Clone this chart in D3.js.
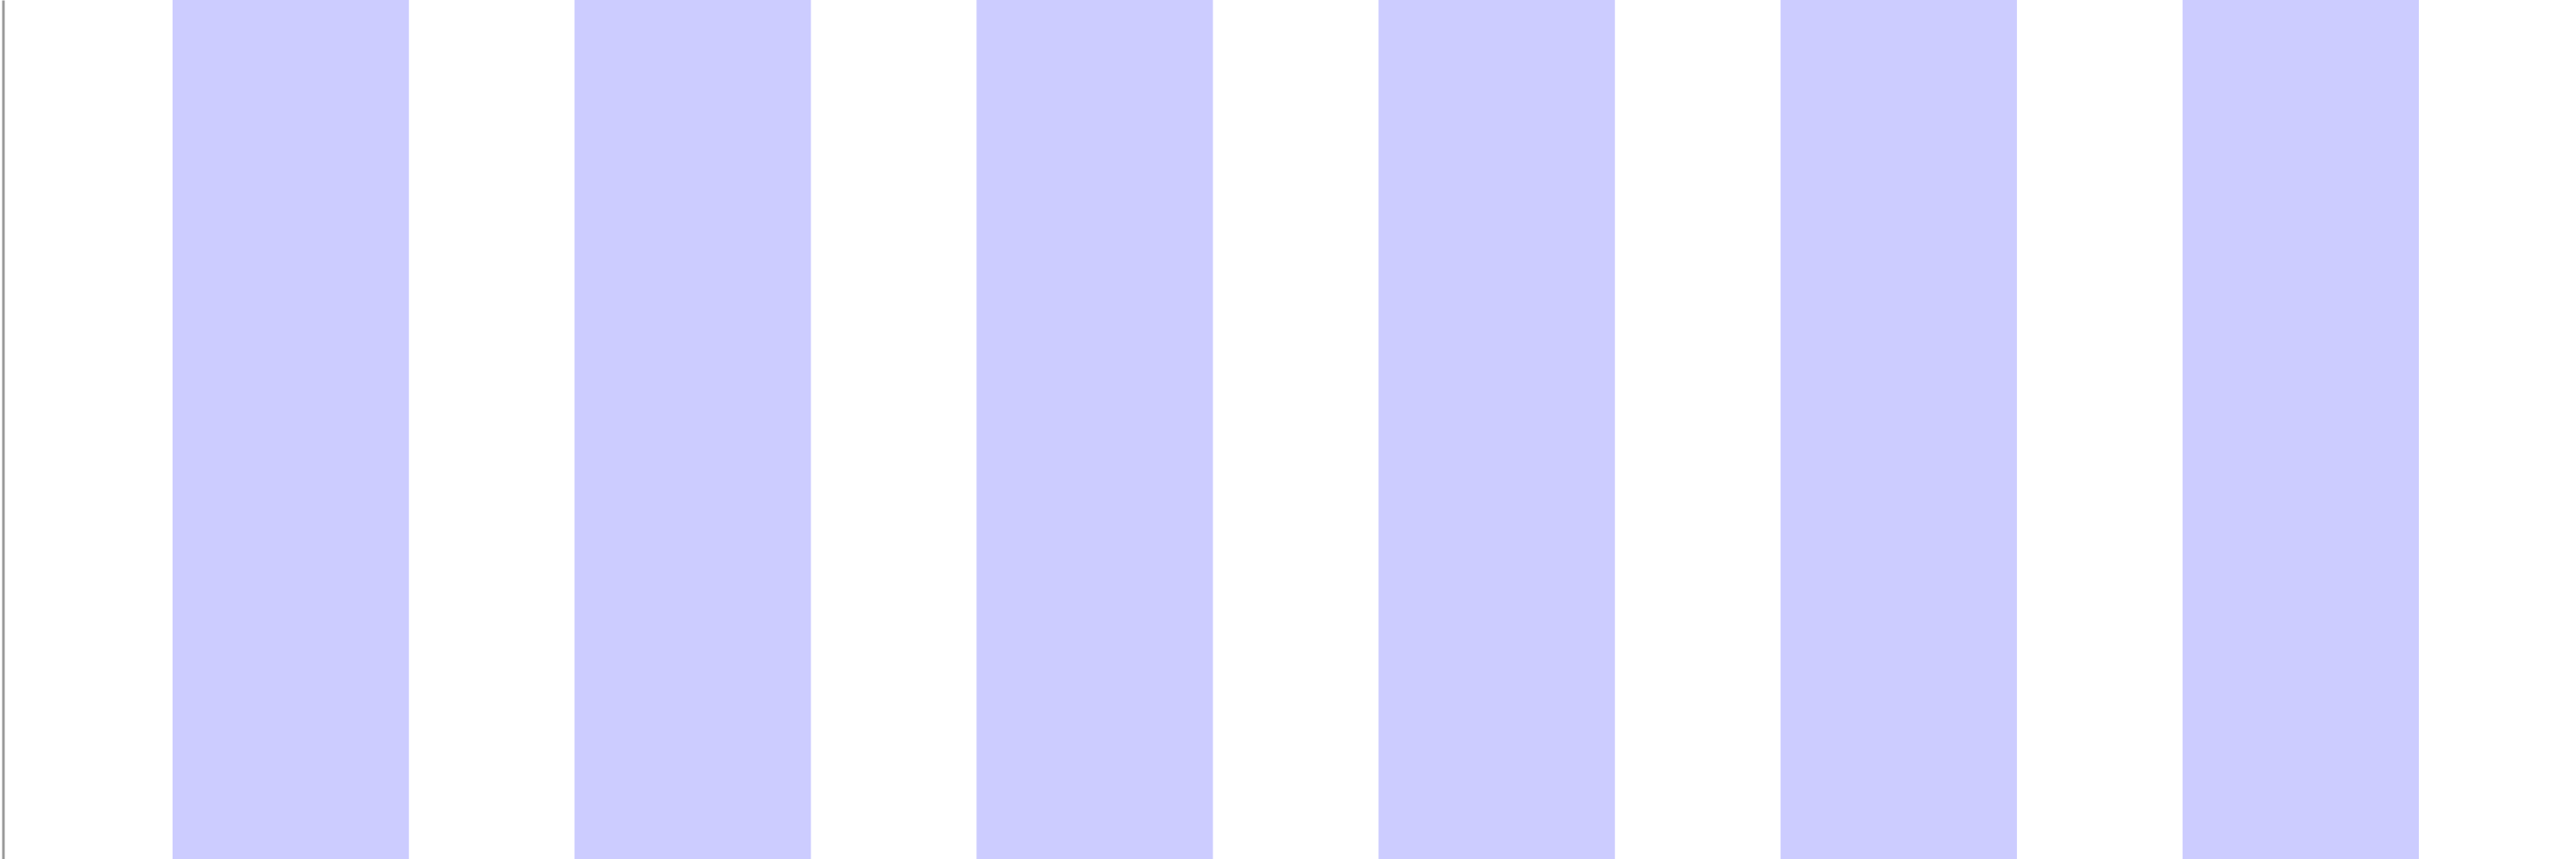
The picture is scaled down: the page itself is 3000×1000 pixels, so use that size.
<!doctype html>
<html lang="en">
<head>
  <meta charset="utf-8">
  <title>Bars</title>
  <style>
    html, body {
      margin: 0;
      padding: 0;
      background: #fff;
    }
    svg {
      display: block;
    }
    .bar {
      fill: #ccccff;
    }
    .axis path {
      stroke: #999;
      stroke-width: 3px;
    }
  </style>
</head>

<body>
  <div id="chart"></div>

  <script src="https://cdn.jsdelivr.net/npm/d3@7/dist/d3.min.js"></script>

  <script>
  // categories and values (the view only shows a window of the y range,
  // every bar runs past both the top and the bottom of it)
  var categories = ['A', 'B', 'C', 'D', 'E', 'F'];
  var values = [120, 120, 120, 120, 120, 120];
  var baseValues = [-20, -20, -20, -20, -20, -20];

  // visible window of the value axis
  var yWindow = [40, 80];

(function() {

  var width = 3000;
  var height = 1000;

  var x = d3.scaleBand()
      .domain(categories)
      .range([9, 3009])
      .paddingInner(0.412)
      .paddingOuter(0.41);

  var y = d3.scaleLinear()
      .domain(yWindow)
      .range([height, 0]);

  var svg = d3.select('#chart')
      .append('svg')
      .attr('width', width)
      .attr('height', height);

  svg.append('defs').append('clipPath')
      .attr('id', 'clip')
    .append('rect')
      .attr('width', width)
      .attr('height', height);

  var data = categories.map(function(c, i) {
    return { cat: c, value: values[i], base: baseValues[i] };
  });

  svg.append('g')
      .attr('clip-path', 'url(#clip)')
    .selectAll('rect')
    .data(data)
    .enter()
    .append('rect')
      .attr('class', 'bar')
      .attr('x', function(d) { return x(d.cat); })
      .attr('width', x.bandwidth())
      .attr('y', function(d) { return y(d.value); })
      .attr('height', function(d) { return y(d.base) - y(d.value); });

  // left axis, just the domain line shows
  var yAxis = svg.append('g')
      .attr('class', 'axis')
      .attr('transform', 'translate(3.5,0)')
      .call(d3.axisLeft(y).ticks(0).tickSize(0).tickFormat(''));

  yAxis.selectAll('text').remove();

})();
  </script>
</body>
</html>
